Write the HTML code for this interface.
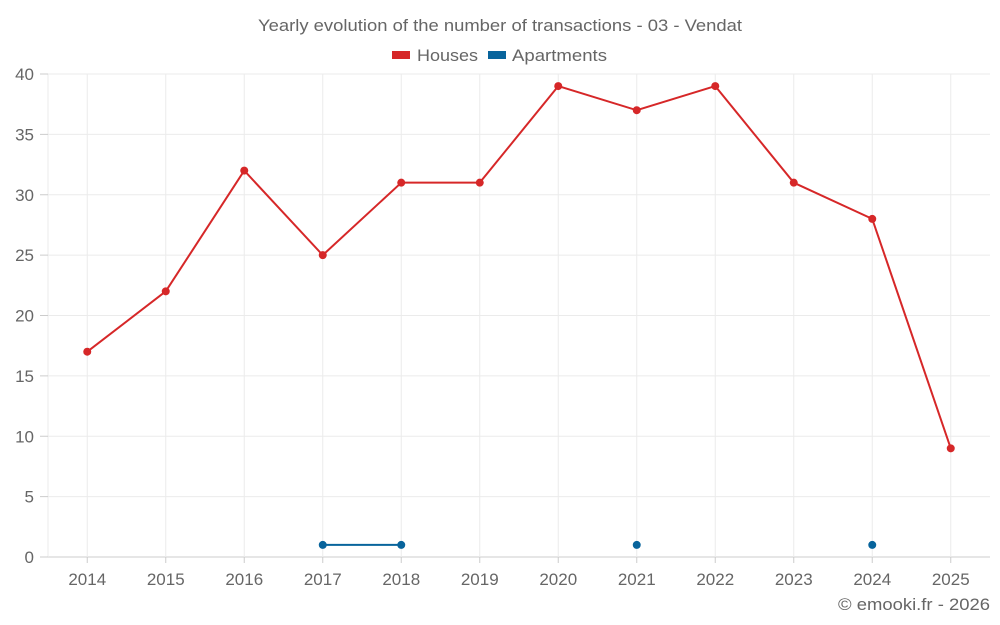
<!DOCTYPE html>
<html><head><meta charset="utf-8">
<style>
body{margin:0;background:#fff;font-family:"Liberation Sans",sans-serif;}
svg{display:block}
</style></head>
<body>
<svg id="chart" width="1000" height="625" xmlns="http://www.w3.org/2000/svg">
<text x="258" y="31" font-size="17" fill="#666" textLength="484" lengthAdjust="spacingAndGlyphs">Yearly evolution of the number of transactions - 03 - Vendat</text>
<g>
<g><rect x="392" y="51" width="18" height="8" fill="#d62728"/><text x="417" y="61" font-size="17" fill="#666" textLength="61" lengthAdjust="spacingAndGlyphs">Houses</text></g>
<g><rect x="488" y="51" width="18" height="8" fill="#08649c"/><text x="512" y="61" font-size="17" fill="#666" textLength="95" lengthAdjust="spacingAndGlyphs">Apartments</text></g>
</g>
<g id="grid"></g><g id="axes"></g><g id="series"></g>
<text x="838" y="610" font-size="17" fill="#666" textLength="152" lengthAdjust="spacingAndGlyphs">© emooki.fr - 2026</text>
</svg>
<script>
const categories=["2014","2015","2016","2017","2018","2019","2020","2021","2022","2023","2024","2025"];
const houses=[17,22,32,25,31,31,39,37,39,31,28,9];
const apartments=[null,null,null,1,1,null,null,1,null,null,1,null];
const yTicks=[0,5,10,15,20,25,30,35,40];
const L=48,R=990,T=74,B=557,yMax=40;
const bw=(R-L)/categories.length;
const x=i=>L+bw/2+i*bw;
const y=v=>B-(v/yMax)*(B-T);
const NS="http://www.w3.org/2000/svg";
function mk(tag,attrs,parent){const e=document.createElementNS(NS,tag);for(const k in attrs)e.setAttribute(k,attrs[k]);parent.appendChild(e);return e;}
const grid=document.getElementById('grid'),axes=document.getElementById('axes'),series=document.getElementById('series');
yTicks.forEach(t=>{
 const l=mk('line',{x1:L,x2:R,y1:y(t),y2:y(t),stroke:t===0?'#ccc':'#ebebeb','stroke-width':1},grid);
 
 
 const tk=mk('line',{x1:L-8,x2:L,y1:y(t),y2:y(t),stroke:'#ccc'},axes);
 
 
 const tx=mk('text',{x:L-14,y:y(t)+6,'text-anchor':'end','font-size':17,fill:'#666'},axes);
 tx.textContent=t;
 
 
});
const ax=mk('line',{x1:L,x2:L,y1:T,y2:B,stroke:'#ebebeb'},grid);


categories.forEach((c,i)=>{
 const l=mk('line',{x1:x(i),x2:x(i),y1:T,y2:B,stroke:'#ebebeb'},grid);
 
 
 const tk=mk('line',{x1:x(i),x2:x(i),y1:B,y2:B+6,stroke:'#ccc'},axes);
 
 
 const tx=mk('text',{x:x(i),y:B+28,'text-anchor':'middle','font-size':17,fill:'#666'},axes);
 tx.textContent=c;
 
 
});
function draw(vals,color,name){
 for(let i=0;i<vals.length-1;i++){
  if(vals[i]!=null&&vals[i+1]!=null){
   const s=mk('line',{x1:x(i),y1:y(vals[i]),x2:x(i+1),y2:y(vals[i+1]),stroke:color,'stroke-width':2},series);
   
   
  }
 }
 vals.forEach((v,i)=>{
  if(v==null)return;
  const p=mk('circle',{cx:x(i),cy:y(v),r:4,fill:color},series);
  
  
 });
}
draw(houses,'#d62728','houses');
draw(apartments,'#08649c','apartments');
</script>
</body></html>
